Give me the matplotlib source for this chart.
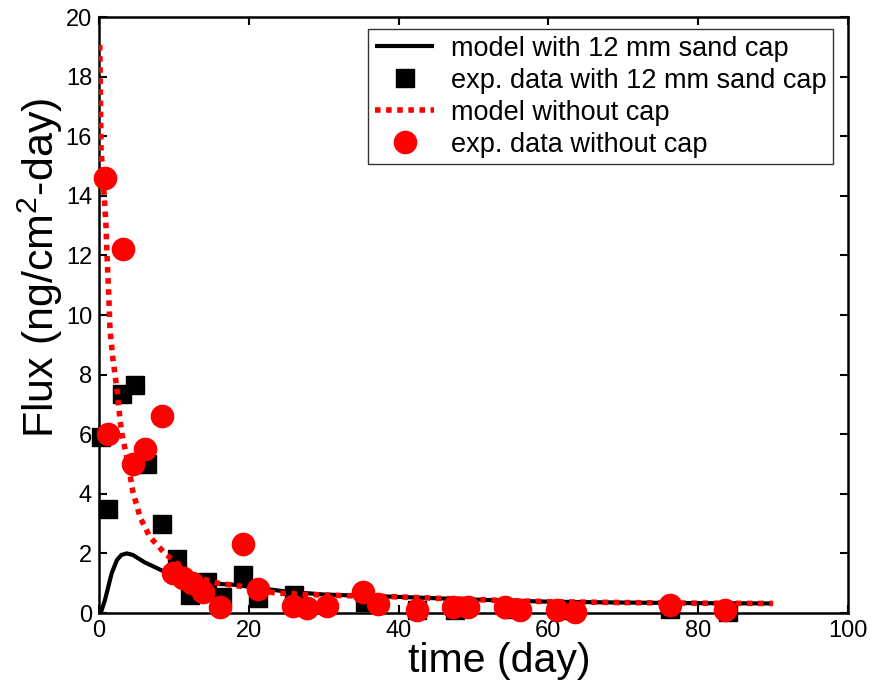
import matplotlib
matplotlib.use("Agg")
import matplotlib.pyplot as plt

plt.rcParams['font.family'] = ['Liberation Sans', 'DejaVu Sans']
plt.rcParams['mathtext.fontset'] = 'custom'
plt.rcParams['mathtext.rm'] = 'Liberation Sans'
plt.rcParams['mathtext.it'] = 'Liberation Sans'

# model with 12 mm sand cap
cap_model_x = [0.27, 0.8, 1.7, 2.4, 3.0, 3.7, 4.5, 6.1, 8.8, 11, 14, 18, 20, 25, 30, 40, 50, 60, 70, 80, 90]
cap_model_y = [0.03, 0.44, 1.34, 1.78, 1.95, 2.0, 1.95, 1.7, 1.38, 1.15, 1.0, 0.95, 0.88, 0.72, 0.62, 0.54, 0.45, 0.38, 0.35, 0.33, 0.32]

# exp. data with 12 mm sand cap
cap_exp_x = [0.3, 1.2, 3.1, 4.8, 6.4, 8.4, 10.4, 12.1, 14.4, 16.4, 19.2, 21.2, 26.0, 35.5, 42.5, 47.5, 55.0, 62.0, 76.3, 84.0]
cap_exp_y = [5.9, 3.5, 7.35, 7.65, 5.0, 3.0, 1.8, 0.6, 1.05, 0.55, 1.28, 0.5, 0.6, 0.38, 0.1, 0.1, 0.12, 0.1, 0.12, 0.05]

# model without cap
nocap_model_x = [0.1, 0.27, 0.67, 0.93, 1.07, 1.33, 1.47, 1.87, 2.4, 2.8, 3.07, 3.9, 4.5, 5.5, 6.8, 8.8, 11, 13.2, 15.9, 19.5, 23.5, 30, 40, 50, 60, 70, 80, 90]
nocap_model_y = [19.06, 15.6, 14.1, 13.0, 12.0, 10.5, 9.5, 8.5, 7.5, 6.5, 6.0, 5.0, 4.1, 3.2, 2.55, 2.0, 1.55, 1.2, 1.0, 0.88, 0.67, 0.6, 0.54, 0.45, 0.38, 0.35, 0.33, 0.32]

# exp. data without cap
nocap_exp_x = [0.8, 3.2, 1.2, 4.5, 6.1, 8.4, 9.9, 11.2, 12.4, 13.9, 16.2, 19.2, 21.2, 25.9, 27.8, 30.4, 35.2, 37.2, 42.5, 47.3, 49.3, 54.2, 56.2, 61.1, 63.6, 76.3, 83.6]
nocap_exp_y = [14.6, 12.2, 6.0, 5.0, 5.5, 6.6, 1.35, 1.17, 1.0, 0.7, 0.2, 2.3, 0.8, 0.25, 0.17, 0.25, 0.7, 0.3, 0.1, 0.2, 0.2, 0.2, 0.1, 0.1, 0.05, 0.27, 0.1]

x_ticks = [0, 20, 40, 60, 80, 100]
y_ticks = [0, 2, 4, 6, 8, 10, 12, 14, 16, 18, 20]

fig = plt.figure(figsize=(8.78, 6.94), dpi=100)
ax = fig.add_axes([99/878, 1 - 613/694, (848-99)/878, (613-17)/694])

ax.plot(cap_model_x, cap_model_y, color='black', lw=3, solid_capstyle='butt',
        label='model with 12 mm sand cap', zorder=2)
ax.plot(cap_exp_x, cap_exp_y, 's', color='black', ms=13, mec='black',
        label='exp. data with 12 mm sand cap', clip_on=False, zorder=3)
ax.plot(nocap_model_x, nocap_model_y, color='red', lw=4, linestyle=(0, (1, 1)),
        label='model without cap', zorder=4)
ax.plot(nocap_exp_x, nocap_exp_y, 'o', color='red', ms=16, mec='red',
        label='exp. data without cap', clip_on=False, zorder=5)

ax.set_xlim(0, 100)
ax.set_ylim(0, 20)
ax.set_xticks(x_ticks)
ax.set_yticks(y_ticks)
ax.tick_params(direction='in', length=6, width=1.5, labelsize=17, top=True, right=True, pad=5)
for s in ax.spines.values():
    s.set_linewidth(1.8)

ax.set_xlabel('time (day)', fontsize=29.5)
ax.xaxis.set_label_coords((499 - 99) / 749, -(642 - 613) / 596)
ax.xaxis.label.set_verticalalignment('top')
ax.set_ylabel('Flux (ng/cm$^2$-day)', fontsize=31)
ax.yaxis.set_label_coords((40 - 99) / 749, (613 - 268) / 596)
ax.yaxis.label.set_verticalalignment('center')

leg = ax.legend(loc='upper right', bbox_to_anchor=((833-99)/749, (613-29)/596),
                fontsize=19.5, frameon=True, fancybox=False, edgecolor='black',
                handlelength=2.2, handletextpad=0.6, borderpad=0.25, labelspacing=0.22,
                borderaxespad=0)
leg.get_frame().set_linewidth(1.0)

fig.savefig('out.png', dpi=100)
